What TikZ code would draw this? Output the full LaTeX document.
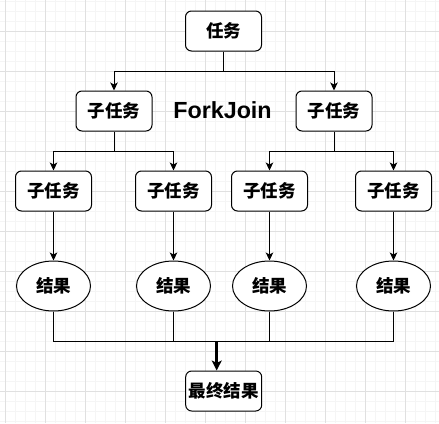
\documentclass[tikz,border=0pt]{standalone}
\usepackage{fontspec}
\setmainfont{Liberation Sans}
\newfontfamily\cjk{Noto Sans CJK SC}
\usetikzlibrary{arrows.meta,shapes.geometric}
\tikzset{
  minorgrid/.style={draw=black!4, line width=0.8pt},
  majorgrid/.style={draw=black!12, line width=0.8pt},
  box/.style={draw=black, line width=1pt, rounded corners=6pt, fill=white,
    minimum width=76pt, minimum height=40pt, inner sep=0pt,
    font=\cjk\bfseries\fontsize{17.5}{20}\selectfont},
  res/.style={draw=black, line width=1pt, ellipse, fill=white,
    minimum width=74pt, minimum height=50pt, inner sep=0pt,
    font=\cjk\bfseries\fontsize{17.5}{20}\selectfont},
  arr/.style={draw=black, line width=1pt, -{Stealth[length=8pt,width=7.5pt,inset=2pt]}},
  conn/.style={draw=black, line width=1pt},
  bigarr/.style={draw=black, line width=3pt, -{Stealth[length=10pt,width=10pt,inset=2.5pt]}}
}
\begin{document}
\begin{tikzpicture}[x=1pt,y=-1pt]
\fill[white] (0,0) rectangle (439,423);
\useasboundingbox (0,0) rectangle (439,423);
% grid
\foreach \i in {0,...,43} \draw[minorgrid] (5.3+10*\i,0) -- (5.3+10*\i,423);
\foreach \i in {0,...,42} \draw[minorgrid] (0,1.3+10*\i) -- (439,1.3+10*\i);
\foreach \i in {0,...,10} \draw[majorgrid] (5.3+40*\i,0) -- (5.3+40*\i,423);
\foreach \i in {0,...,9} \draw[majorgrid] (0,31.3+40*\i) -- (439,31.3+40*\i);
% nodes
\node[box] (task) at (223.5,31) {任务};
\node[box] (s1) at (114,111) {子任务};
\node[box] (s2) at (334,111) {子任务};
\node[font=\bfseries\fontsize{23.3}{27}\selectfont] (fj) at (222.5,110.5) {ForkJoin};
\node[box] (ss1) at (53.5,191) {子任务};
\node[box] (ss2) at (173.5,191) {子任务};
\node[box] (ss3) at (269.5,191) {子任务};
\node[box] (ss4) at (393.5,191) {子任务};
\node[res] (e1) at (53.5,286) {结果};
\node[res] (e2) at (173.5,286) {结果};
\node[res] (e3) at (269.5,286) {结果};
\node[res] (e4) at (393.5,286) {结果};
\node[box] (fin) at (223.7,391) {最终结果};
% connectors
\draw[arr] (task.south) -- ++(0,20) -| (s1.north);
\draw[arr] (task.south) -- ++(0,20) -| (s2.north);
\draw[arr] (s1.south) -- ++(0,20) -| (ss1.north);
\draw[arr] (s1.south) -- ++(0,20) -| (ss2.north);
\draw[arr] (s2.south) -- ++(0,20) -| (ss3.north);
\draw[arr] (s2.south) -- ++(0,20) -| (ss4.north);
\draw[arr] (ss1) -- (e1);
\draw[arr] (ss2) -- (e2);
\draw[arr] (ss3) -- (e3);
\draw[arr] (ss4) -- (e4);
\draw[conn] (e1.south) -- ++(0,30) -| (e4.south);
\draw[conn] (e2.south) -- ++(0,30);
\draw[conn] (e3.south) -- ++(0,30);
\coordinate (m) at (216.7,341);
\draw[bigarr] (m) -- (m |- fin.north);
\end{tikzpicture}
\end{document}
